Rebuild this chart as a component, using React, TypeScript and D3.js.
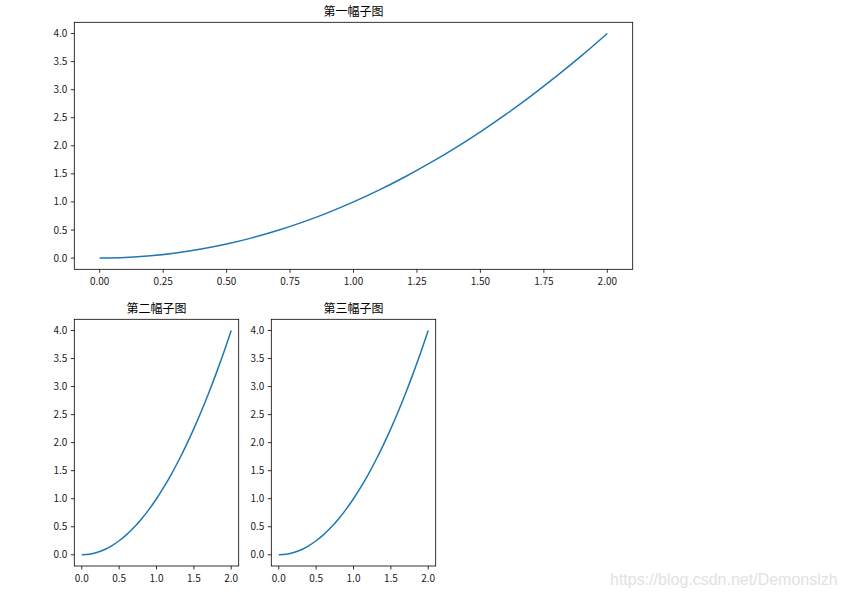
import { useMemo } from "react";
import * as d3 from "d3";

const WIDTH = 843;
const HEIGHT = 598;

// values
const xValues = [0, 0.1, 0.2, 0.3, 0.4, 0.5, 0.6, 0.7, 0.8, 0.9, 1.0, 1.1, 1.2, 1.3, 1.4, 1.5, 1.6, 1.7, 1.8, 1.9, 2.0];
const yValues = [0, 0.01, 0.04, 0.09, 0.16, 0.25, 0.36, 0.49, 0.64, 0.81, 1.0, 1.21, 1.44, 1.69, 1.96, 2.25, 2.56, 2.89, 3.24, 3.61, 4.0];

const titles = ["第一幅子图", "第二幅子图", "第三幅子图"];
const topXTicks = [0, 0.25, 0.5, 0.75, 1.0, 1.25, 1.5, 1.75, 2.0];
const bottomXTicks = [0, 0.5, 1.0, 1.5, 2.0];
const yTicks = [0, 0.5, 1.0, 1.5, 2.0, 2.5, 3.0, 3.5, 4.0];

const LINE_COLOR = "#1f77b4";
const FONT = "'Noto Sans CJK SC', 'DejaVu Sans', sans-serif";

type PanelProps = {
  left: number;
  top: number;
  right: number;
  bottom: number;
  title: string;
  xTicks: number[];
  xDigits: number;
};

function Panel({ left, top, right, bottom, title, xTicks, xDigits }: PanelProps) {
  const x = d3.scaleLinear().domain([-0.1, 2.1]).range([left, right]);
  const y = d3.scaleLinear().domain([-0.2, 4.2]).range([bottom, top]);
  const points = xValues.map((v, i) => [v, yValues[i]] as [number, number]);
  const line = d3
    .line<[number, number]>()
    .x((d) => x(d[0]))
    .y((d) => y(d[1]))
    .curve(d3.curveMonotoneX);

  return (
    <g>
      <text
        x={(left + right) / 2}
        y={top - 6}
        textAnchor="middle"
        fontSize={12}
        fill="#000"
      >
        {title}
      </text>
      <path d={line(points) ?? ""} fill="none" stroke={LINE_COLOR} strokeWidth={1.5} />
      {yTicks.map((t) => (
        <g key={`y${t}`}>
          <line x1={left - 3.5} x2={left} y1={y(t)} y2={y(t)} stroke="#000" strokeWidth={0.8} />
          <text x={left - 7} y={y(t)} dy="0.35em" textAnchor="end" fontSize={10} fill="#222">
            {t.toFixed(1)}
          </text>
        </g>
      ))}
      {xTicks.map((t) => (
        <g key={`x${t}`}>
          <line x1={x(t)} x2={x(t)} y1={bottom} y2={bottom + 3.5} stroke="#000" strokeWidth={0.8} />
          <text x={x(t)} y={bottom + 16} textAnchor="middle" fontSize={10} fill="#222">
            {t.toFixed(xDigits)}
          </text>
        </g>
      ))}
      <rect
        x={left}
        y={top}
        width={right - left}
        height={bottom - top}
        fill="none"
        stroke="#000"
        strokeWidth={0.8}
      />
    </g>
  );
}

export default function App() {
  const panels = useMemo(
    () => [
      { left: 74.3, top: 22.3, right: 632.7, bottom: 269.3, title: titles[0], xTicks: topXTicks, xDigits: 2 },
      { left: 74.3, top: 319.3, right: 238.7, bottom: 566, title: titles[1], xTicks: bottomXTicks, xDigits: 1 },
      { left: 271.3, top: 319.3, right: 435.7, bottom: 566, title: titles[2], xTicks: bottomXTicks, xDigits: 1 },
    ],
    [],
  );

  return (
    <svg
      width={WIDTH}
      height={HEIGHT}
      style={{ position: "absolute", left: 0, top: 0, background: "#fff" }}
      fontFamily={FONT}
    >
      <rect width={WIDTH} height={HEIGHT} fill="#fff" />
      {panels.map((p) => (
        <Panel key={p.title} {...p} />
      ))}
      <text x={610} y={585} fontSize={16} fill="#e2e2e2" fontFamily="'Liberation Sans', Arial, sans-serif">
        https://blog.csdn.net/Demonslzh
      </text>
    </svg>
  );
}
